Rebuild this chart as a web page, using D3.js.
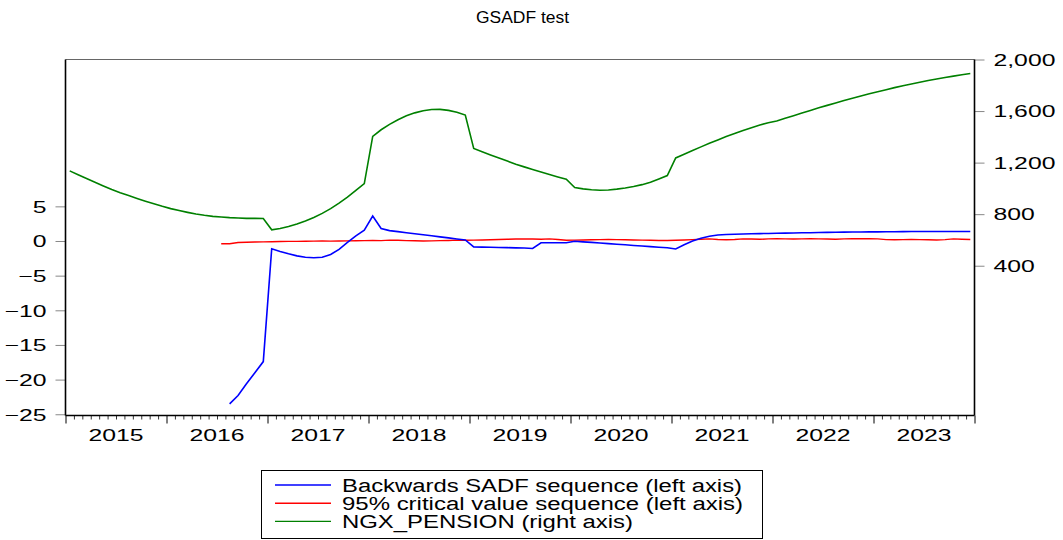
<!DOCTYPE html>
<html><head><meta charset="utf-8">
<script src="https://cdn.jsdelivr.net/npm/d3@7"></script>
<style>body{margin:0;background:#fff}svg{display:block}text{font-family:"Liberation Sans",Arial,sans-serif;fill:#000}</style>
</head><body><svg id="c" width="1063" height="540"></svg>
<script>
// ---- data (monthly, index 0 = Jan 2015) ----
const years = ["2015","2016","2017","2018","2019","2020","2021","2022","2023"];
const leftTicks = [-25,-20,-15,-10,-5,0,5];
const rightTicks = [400,800,1200,1600,2000];
const seriesNames = ["Backwards SADF sequence (left axis)","95% critical value sequence (left axis)","NGX_PENSION (right axis)"];
const seriesColors = ["#0000ff","#ff0000","#008000"];

// NGX_PENSION, Jan 2015 - Dec 2023 (right axis)
const pension = [
 1136,1106,1077,1048,1019,991,966,944,922,901,881,861,
 843,828,814,801,791,783,778,773,770,767,767,766,
 679,689,704,723,747,774,806,843,886,932,985,1037,
 1404,1455,1497,1533,1563,1586,1603,1612,1613,1605,1591,1569,
 1310,1285,1260,1236,1212,1188,1167,1147,1127,1108,1089,1071,
 1007,996,990,986,988,994,1003,1014,1029,1047,1073,1100,
 1236,1265,1294,1322,1350,1376,1402,1426,1449,1471,1492,1510,
 1523,1544,1564,1585,1605,1625,1644,1663,1682,1699,1717,1734,
 1750,1766,1782,1797,1810,1824,1837,1849,1861,1871,1882,1891];

// Backwards SADF sequence, starts Aug 2016 (index 19)
const bsadfStart = 19;
const bsadf = [
 -23.5,-22.3,-20.6,-19.0,-17.4,
 -1.12,-1.5,-1.85,-2.15,-2.35,-2.42,-2.35,-1.95,-1.2,-0.2,0.75,1.55,
 3.6,1.8,1.5,1.35,1.2,1.05,0.9,0.75,0.6,0.45,0.3,0.15,
 -0.85,-0.88,-0.9,-0.93,-0.96,-0.99,-1.02,-1.08,-0.26,-0.26,-0.26,-0.26,
 -0.03,-0.12,-0.2,-0.29,-0.38,-0.46,-0.55,-0.64,-0.72,-0.81,-0.9,-0.98,
 -1.15,-0.53,0.0,0.4,0.68,0.86,0.93,0.98,1.02,1.05,1.07,1.09,
 1.11,1.13,1.16,1.18,1.2,1.22,1.24,1.26,1.28,1.29,1.3,1.31,
 1.32,1.33,1.34,1.35,1.36,1.37,1.37,1.38,1.38,1.38,1.37,1.37];

// 95% critical value sequence, starts Jul 2016 (index 18)
const cvStart = 18;
const cv = [
 -0.40,-0.40,-0.22,-0.18,-0.15,-0.12,
 -0.10,-0.08,-0.06,-0.05,-0.03,-0.02,0.00,-0.02,0.01,0.02,0.03,0.05,
 0.08,0.06,0.12,0.10,0.05,0.03,0.00,0.02,0.05,0.08,0.12,0.10,
 0.12,0.15,0.18,0.22,0.25,0.28,0.30,0.28,0.25,0.30,0.22,0.10,
 0.12,0.15,0.18,0.20,0.22,0.20,0.18,0.15,0.12,0.10,0.08,0.07,
 0.10,0.15,0.20,0.25,0.30,0.22,0.18,0.22,0.30,0.28,0.25,0.30,
 0.32,0.30,0.28,0.30,0.32,0.30,0.28,0.25,0.30,0.32,0.33,0.32,
 0.30,0.20,0.18,0.20,0.22,0.20,0.18,0.15,0.20,0.30,0.25,0.22];

// ---- layout ----
const L = 65.5, R = 974.5, T = 59.5, B = 415.5;
const SX = 1.5; // horizontal text stretch of the original export
const svg = d3.select("#c");

const x = d3.scaleLinear().domain([0, years.length*12]).range([L, R]);
const yL = d3.scaleLinear().domain([-25.18, 26.19]).range([B, T]);
const yR = d3.scaleLinear().domain([-762, 2000]).range([B, T]);

function stretch(sel, dx, sx) {
  sel.attr("x", 0).attr("transform", `translate(${dx},0) scale(${sx},1)`);
}

// title
svg.append("text").attr("x", 522.5).attr("y", 23).attr("text-anchor","middle")
  .style("font-size","16px").attr("textLength", 93).attr("lengthAdjust","spacingAndGlyphs")
  .text("GSADF test");

// left axis
const gl = svg.append("g").attr("transform", `translate(${L},0)`)
  .call(d3.axisLeft(yL).tickValues(leftTicks).tickSize(10).tickPadding(0).tickFormat(d3.format("d")));
gl.select(".domain").remove();
gl.selectAll(".tick line").attr("stroke","#888");
gl.selectAll(".tick text").style("font-size","16.5px").attr("dy","0.35em").call(stretch, -19, SX);

// right axis
const gr = svg.append("g").attr("transform", `translate(${R},0)`)
  .call(d3.axisRight(yR).tickValues(rightTicks).tickSize(10).tickPadding(0).tickFormat(d3.format(",")));
gr.select(".domain").remove();
gr.selectAll(".tick line").attr("stroke","#888");
gr.selectAll(".tick text").style("font-size","16.5px").attr("dy","0.35em").call(stretch, 19, SX);

// bottom axis: month minor ticks + year major ticks
const allM = d3.range(0, years.length*12 + 1);
const gbMinor = svg.append("g").attr("transform", `translate(0,${B})`)
  .call(d3.axisBottom(x).tickValues(allM.filter(d => d % 12 !== 0)).tickSize(4).tickFormat(""));
gbMinor.select(".domain").remove();
gbMinor.selectAll(".tick line").attr("stroke","#333");
const gbMajor = svg.append("g").attr("transform", `translate(0,${B})`)
  .call(d3.axisBottom(x).tickValues(allM.filter(d => d % 12 === 0)).tickSize(8).tickFormat(""));
gbMajor.select(".domain").remove();
gbMajor.selectAll(".tick line").attr("stroke","#000");

svg.append("g").selectAll("text").data(years).join("text")
  .attr("y", 441).attr("text-anchor","middle").style("font-size","16.5px")
  .each(function(d,i){ d3.select(this).attr("transform", `translate(${x(i*12+6)},0) scale(${SX},1)`).attr("x",0); })
  .text(d => d);

// lines
svg.append("clipPath").attr("id","pc").append("rect")
  .attr("x", L).attr("y", T).attr("width", R-L).attr("height", B-T);
const plot = svg.append("g").attr("clip-path","url(#pc)");
const lineL = d3.line().x(d => x(d.i + 0.5)).y(d => yL(d.v));
const lineR = d3.line().x(d => x(d.i + 0.5)).y(d => yR(d.v));
plot.append("path").datum(pension.map((v,i)=>({i, v})))
  .attr("d", lineR).attr("fill","none").attr("stroke", seriesColors[2]).attr("stroke-width",1.6);
plot.append("path").datum(cv.map((v,k)=>({i:k+cvStart, v})))
  .attr("d", lineL).attr("fill","none").attr("stroke", seriesColors[1]).attr("stroke-width",1.4);
plot.append("path").datum(bsadf.map((v,k)=>({i:k+bsadfStart, v})))
  .attr("d", lineL).attr("fill","none").attr("stroke", seriesColors[0]).attr("stroke-width",1.6);

// frame
svg.append("line").attr("x1",L).attr("x2",R).attr("y1",T).attr("y2",T).attr("stroke","#666").attr("stroke-width",1.2);
svg.append("line").attr("x1",L).attr("x2",L).attr("y1",T).attr("y2",B).attr("stroke","#000").attr("stroke-width",1.6);
svg.append("line").attr("x1",R).attr("x2",R).attr("y1",T).attr("y2",B).attr("stroke","#000").attr("stroke-width",1.6);
svg.append("line").attr("x1",L).attr("x2",R).attr("y1",B).attr("y2",B).attr("stroke","#000").attr("stroke-width",1.6);

// legend
svg.append("rect").attr("x",261.5).attr("y",470.5).attr("width",501).attr("height",68)
  .attr("fill","#fff").attr("stroke","#000").attr("stroke-width",1);
const legW = [400, 401, 291];
const lg = svg.append("g").selectAll("g").data(seriesNames).join("g")
  .attr("transform", (d,i) => `translate(0,${485 + i*18.2})`);
lg.append("line").attr("x1",275).attr("x2",331).attr("y1",0).attr("y2",0)
  .attr("stroke",(d,i)=>seriesColors[i]).attr("stroke-width",1.4);
lg.append("text").attr("x",342).attr("y",6.5).style("font-size","18px")
  .attr("textLength",(d,i)=>legW[i]).attr("lengthAdjust","spacingAndGlyphs").text(d=>d);
</script></body></html>
